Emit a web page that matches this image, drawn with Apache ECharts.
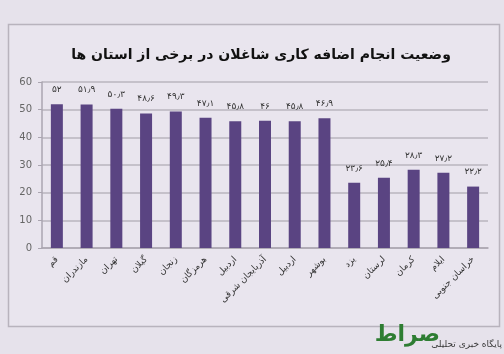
<!DOCTYPE html>
<html>
<head>
<meta charset="utf-8">
<style>
  html, body { margin: 0; padding: 0; background: #e6e2eb; }
  #main { width: 504px; height: 354px; }
</style>
<script src="https://cdn.jsdelivr.net/npm/echarts@6/dist/echarts.min.js"></script>
</head>
<body>
<div id="main"></div>
<script>
// استان ها
var provinces = ['قم', 'مازندران', 'تهران', 'گیلان', 'زنجان', 'هرمزگان', 'اردبیل',
    'آذربایجان شرقی', 'اردبیل', 'بوشهر', 'یزد', 'لرستان', 'کرمان', 'ایلام', 'خراسان جنوبی'];
var values = [52, 51.9, 50.3, 48.6, 49.3, 47.1, 45.8, 46, 45.8, 46.9, 23.6, 25.4, 28.3, 27.2, 22.2];
var yTicks = [0, 10, 20, 30, 40, 50, 60];
var title = 'وضعیت انجام اضافه کاری شاغلان در برخی از استان ها';

var faDigits = '۰۱۲۳۴۵۶۷۸۹';
function toFa(v) {
    return String(v).replace(/[0-9]/g, function (d) { return faDigits[+d]; }).replace('.', '٫');
}

var myChart = echarts.init(document.getElementById('main'));

var option = {
    backgroundColor: '#e6e2eb',
    animation: false,
    textStyle: { fontFamily: 'DejaVu Sans' },
    title: {
        text: title,
        left: 256,
        top: 43,
        textAlign: 'center',
        textStyle: { fontSize: 14, fontWeight: 'bold', color: '#111', fontFamily: 'DejaVu Sans' }
    },
    graphic: [
        {
            type: 'rect',
            shape: { x: 8.5, y: 24.5, width: 491, height: 302 },
            style: { fill: '#e9e5ee', stroke: '#b8b3bd', lineWidth: 1.5 },
            z: -10
        },
        {
            type: 'text',
            right: 2,
            bottom: 5,
            style: { text: 'پایگاه خبری تحلیلی', fill: '#3a3a3a', font: '9px "DejaVu Sans"' }
        },
        {
            type: 'text',
            right: 64,
            bottom: 8,
            style: { text: 'صراط', fill: '#2e7d32', font: 'bold 22px "DejaVu Sans"' }
        }
    ],
    grid: { left: 42, right: 16, top: 82, bottom: 106 },
    xAxis: {
        type: 'category',
        data: provinces,
        axisLine: { lineStyle: { color: '#aaa5b0', width: 1.5 } },
        axisTick: { lineStyle: { color: '#aaa5b0' }, length: 4 },
        axisLabel: { rotate: 45, fontSize: 9, color: '#333', margin: 10, interval: 0 }
    },
    yAxis: {
        type: 'value',
        min: yTicks[0],
        max: yTicks[yTicks.length - 1],
        interval: 10,
        axisLine: { show: true, lineStyle: { color: '#aaa5b0', width: 1.5 } },
        axisTick: { show: true, length: 4, lineStyle: { color: '#aaa5b0' } },
        axisLabel: { fontSize: 10, color: '#666', margin: 10 },
        splitLine: { lineStyle: { color: '#b9b4be', width: 1.5 } }
    },
    series: [
        {
            type: 'bar',
            data: values,
            barWidth: 12,
            itemStyle: { color: '#5a4482' },
            label: {
                show: true,
                position: 'top',
                distance: 10,
                fontSize: 9,
                color: '#333',
                formatter: function (p) { return toFa(p.value); }
            }
        }
    ]
};

myChart.setOption(option);
</script>
</body>
</html>
